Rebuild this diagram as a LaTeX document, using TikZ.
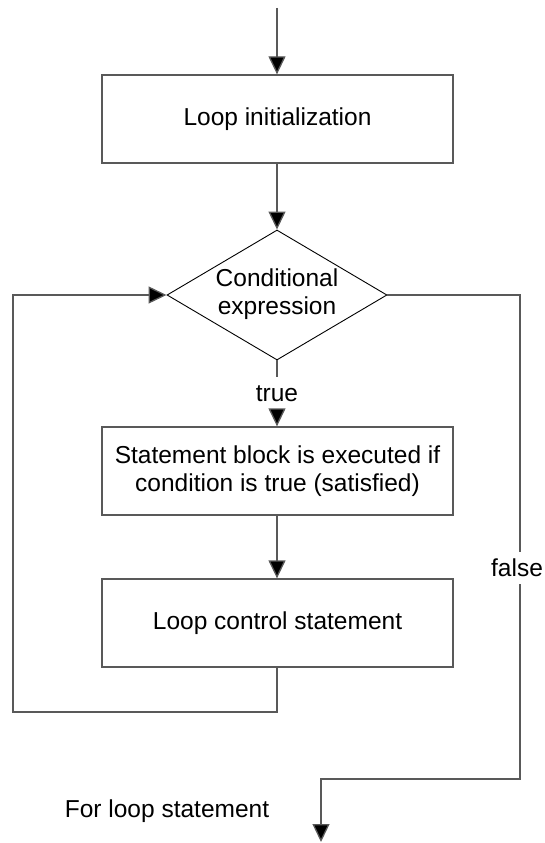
\documentclass[tikz,border=0pt]{standalone}
\usepackage{fontspec}
\setmainfont{Liberation Sans}
\usetikzlibrary{arrows.meta,shapes.geometric}
\begin{document}
\begin{tikzpicture}[x=1pt,y=-1pt,
  every node/.style={font=\fontsize{24.5}{28}\selectfont},
  boxnode/.style={draw=black!65, line width=1.3pt, minimum width=351pt,
    minimum height=88pt, align=center, inner sep=0pt},
  decision/.style={diamond, draw=black, line width=0.9pt,
    minimum width=220pt, minimum height=130pt, inner sep=0pt},
  lbl/.style={fill=white, inner sep=0pt, align=center},
  link/.style={draw=black!65, line width=1.3pt},
  flow/.style={link, -{Triangle[length=18pt,width=17pt,fill=black]}}]
\useasboundingbox (0,0) rectangle (544,843);

% boxes and decision
\node[boxnode] (init) at (277.5,119) {Loop initialization};
\node[decision] (cond) at (277,295) {};
\node[align=center] (condtext) at (277,294) {Conditional\\expression};
\node[boxnode] (body) at (277.5,471) {Statement block is executed if\\condition is true (satisfied)};
\node[boxnode] (ctrl) at (277.5,623) {Loop control statement};

% branch labels
\node[lbl, minimum height=34pt] (truelbl) at (277,394) {true};
\node[lbl, minimum height=32pt] (falselbl) at (520,568) {\makebox[0pt]{\hspace*{-6pt}false}};
\node (forlbl) at (167,811) {For loop statement};

% free ends and corners
\coordinate (start) at (277,8);
\coordinate (loopbot) at (277,712);
\coordinate (loopleft) at (13,712);
\coordinate (fcorner) at (520,779);
\coordinate (exit) at (321,842);

% connectors
\draw[flow] (start) -- (init.north -| start);
\draw[flow] (init.south -| start) -- (cond.north);
\draw[link] (cond.south) -- (truelbl.north);
\draw[flow] (truelbl.south) -- (body.north -| truelbl);
\draw[flow] (body.south -| truelbl) -- (ctrl.north -| truelbl);
\draw[flow] (ctrl.south -| loopbot) -- (loopbot) -- (loopleft) |- (cond.west);
\draw[link] (cond.east) -| (falselbl.north);
\draw[flow] (falselbl.south) -- (fcorner) -| (exit);
\end{tikzpicture}
\end{document}
